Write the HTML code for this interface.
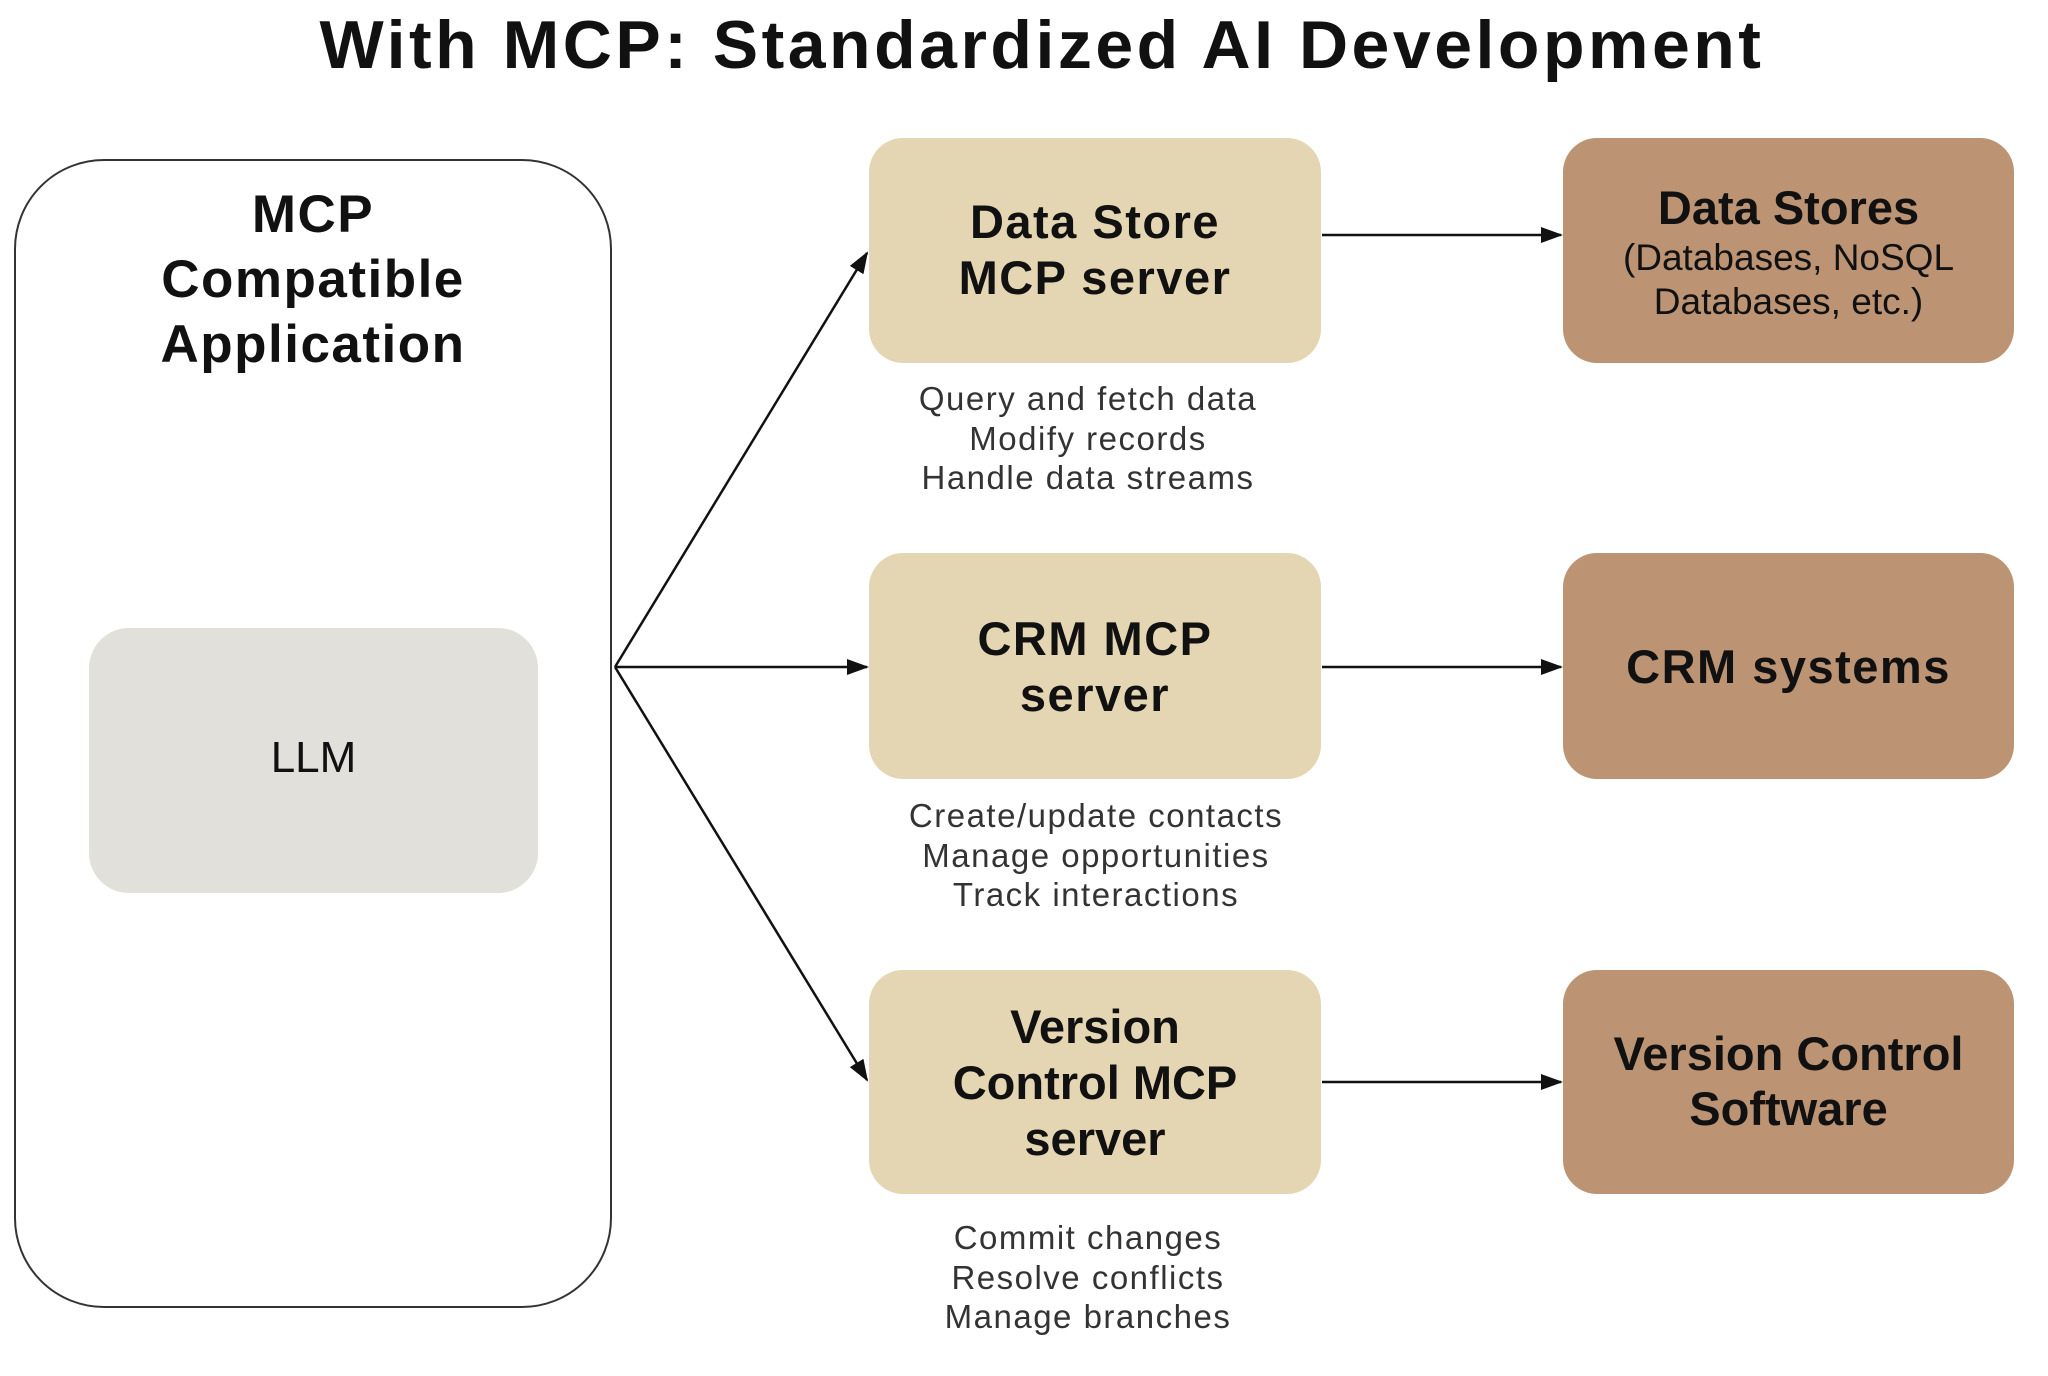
<!DOCTYPE html>
<html><head><meta charset="utf-8"><style>
body{margin:0;width:2048px;height:1376px;background:#fff;overflow:hidden;font-family:"Liberation Sans",sans-serif;position:relative;color:#111}
.a{position:absolute;box-sizing:border-box}
.t{position:absolute;left:0;right:0;text-align:center}
.b{font-weight:bold}
.srv{background:#e5d6b3;border-radius:34px;left:869px;width:452px}
.ext{background:#bc9474;border-radius:34px;left:1563px;width:451px}
.d{position:absolute;width:600px;text-align:center;font-size:33px;color:#333;line-height:39.5px;letter-spacing:1.5px}
.s{letter-spacing:1.5px}
</style></head><body>
<div class="t b" style="top:6px;font-size:68px;left:0;width:2084px;letter-spacing:3.5px">With MCP: Standardized AI Development</div>
<div class="a" style="left:14px;top:159px;width:598px;height:1149px;border:2px solid #333;border-radius:90px"></div>
<div class="a b s" style="left:14px;top:182px;width:598px;text-align:center;font-size:53px;line-height:65px">MCP<br>Compatible<br>Application</div>
<div class="a" style="left:89px;top:628px;width:449px;height:265px;background:#e1e0da;border-radius:40px"></div>
<div class="a" style="left:89px;top:733px;width:449px;text-align:center;font-size:44px">LLM</div>

<div class="a srv" style="top:138px;height:225px"></div>
<div class="a srv" style="top:553px;height:226px"></div>
<div class="a srv" style="top:970px;height:224px"></div>
<div class="a ext" style="top:138px;height:225px"></div>
<div class="a ext" style="top:553px;height:226px"></div>
<div class="a ext" style="top:970px;height:224px"></div>

<div class="a b s" style="left:869px;width:452px;top:194px;text-align:center;font-size:47px;line-height:56px">Data Store<br>MCP server</div>
<div class="a b s" style="left:869px;width:452px;top:611px;text-align:center;font-size:47px;line-height:56px">CRM MCP<br>server</div>
<div class="a b" style="left:869px;width:452px;top:999px;text-align:center;font-size:47px;line-height:56px">Version<br>Control MCP<br>server</div>

<div class="a b" style="left:1563px;width:451px;top:180px;text-align:center;font-size:47px">Data Stores</div>
<div class="a" style="left:1563px;width:451px;top:236px;text-align:center;font-size:37px;line-height:44px">(Databases, NoSQL<br>Databases, etc.)</div>
<div class="a b s" style="left:1563px;width:451px;top:639px;text-align:center;font-size:47px">CRM systems</div>
<div class="a b" style="left:1563px;width:451px;top:1026px;text-align:center;font-size:47px;line-height:55px">Version Control<br>Software</div>

<div class="d" style="left:788px;top:379px">Query and fetch data<br>Modify records<br>Handle data streams</div>
<div class="d" style="left:796px;top:796px">Create/update contacts<br>Manage opportunities<br>Track interactions</div>
<div class="d" style="left:788px;top:1218px">Commit changes<br>Resolve conflicts<br>Manage branches</div>

<svg class="a" style="left:0;top:0" width="2048" height="1376">
<defs><marker id="n" markerWidth="22" markerHeight="16" refX="20" refY="8" orient="auto" markerUnits="userSpaceOnUse"><path d="M0,0 L22,8 L0,16 z" fill="#111"/></marker></defs>
<g stroke="#111" stroke-width="2.5" fill="none">
<line x1="615" y1="667" x2="867" y2="253" marker-end="url(#n)"/>
<line x1="615" y1="667" x2="867" y2="667" marker-end="url(#n)"/>
<line x1="615" y1="667" x2="867" y2="1080" marker-end="url(#n)"/>
<line x1="1322" y1="235" x2="1561" y2="235" marker-end="url(#n)"/>
<line x1="1322" y1="667" x2="1561" y2="667" marker-end="url(#n)"/>
<line x1="1322" y1="1082" x2="1561" y2="1082" marker-end="url(#n)"/>
</g></svg>
</body></html>
